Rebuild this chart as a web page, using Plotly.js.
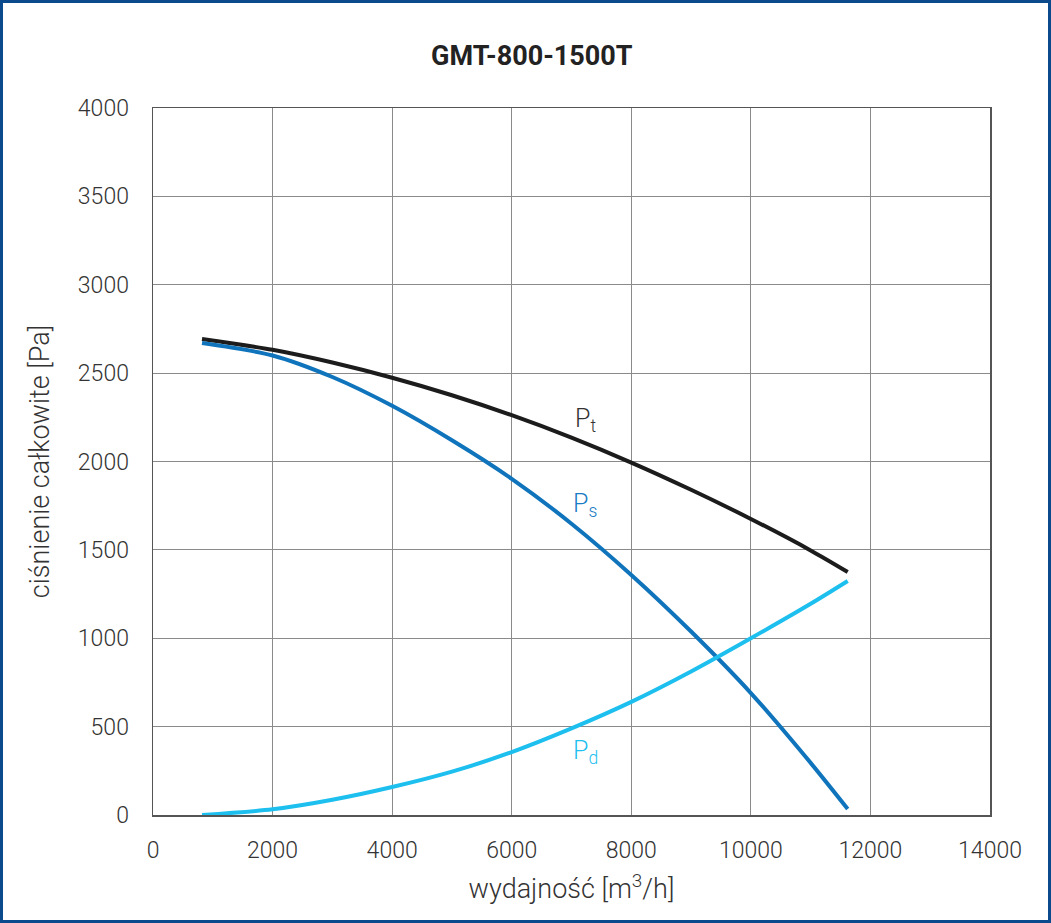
<!DOCTYPE html>
<html>
<head>
<meta charset="utf-8">
<script src="https://cdn.plot.ly/plotly-3.0.1.min.js"></script>
<style>
  html, body { margin: 0; padding: 0; background: #fff; }
  #frame { position: absolute; left: 0; top: 0; width: 1051px; height: 923px;
           box-sizing: border-box; border: 3px solid #0b4a8c; pointer-events: none; }
</style>
</head>
<body>
<div id="myDiv" style="width:1051px;height:923px;"></div>
<div id="frame"></div>
<script>
// wydajność [m3/h]
var flow = [820, 2000, 3000, 4000, 5000, 6000, 7000, 8000, 9000, 10000, 11000, 11620];
// ciśnienie całkowite Pt [Pa]
var pt = [2693, 2632, 2560, 2474, 2375, 2262, 2135, 1994, 1840, 1675, 1497, 1375];
// ciśnienie statyczne Ps [Pa]
var ps = [2670, 2600, 2478, 2315, 2120, 1902, 1648, 1358, 1038, 690, 295, 34];
// ciśnienie dynamiczne Pd [Pa]
var pd = [0, 32, 86, 158, 245, 356, 490, 640, 812, 1000, 1195, 1324];

var labelX = [7230, 7230, 7230];
var labelY = [2235, 1754, 356];
var labelText = ['P<sub>t</sub>', 'P<sub>s</sub>', 'P<sub>d</sub>'];
var labelColor = ['#333333', '#1a7cc4', '#1ec0ef'];

var xTicks = [0, 2000, 4000, 6000, 8000, 10000, 12000, 14000];
var yTicks = [0, 500, 1000, 1500, 2000, 2500, 3000, 3500, 4000];

var trace1 = { x: flow, y: pt, name: 'Pt', type: 'scatter', mode: 'lines',
    line: { color: '#1c1c1c', width: 4, shape: 'spline', smoothing: 0.8 } };
var trace2 = { x: flow, y: ps, name: 'Ps', type: 'scatter', mode: 'lines',
    line: { color: '#0f74bb', width: 4, shape: 'spline', smoothing: 0.8 } };
var trace3 = { x: flow, y: pd, name: 'Pd', type: 'scatter', mode: 'lines',
    line: { color: '#1dbfef', width: 4, shape: 'spline', smoothing: 0.8 } };

var data = [trace1, trace2, trace3];

var annotations = labelText.map(function(t, i) {
    return { x: labelX[i], y: labelY[i], text: t, showarrow: false,
             font: { family: 'Roboto', size: 25, weight: 300, color: labelColor[i] } };
});

var tickFont = { family: 'Roboto', size: 23, weight: 300, color: '#333' };
var titleFont = { family: 'Roboto', size: 27, weight: 300, color: '#333' };

var layout = {
    width: 1051, height: 923,
    margin: { l: 153, r: 61, t: 108, b: 108 },
    paper_bgcolor: '#fff', plot_bgcolor: '#fff',
    showlegend: false,
    title: { text: '<b>GMT-800-1500T</b>', x: 0.506, xanchor: 'center', y: 0.94, yanchor: 'middle',
             font: { family: 'Roboto', size: 27, color: '#222' } },
    xaxis: {
        range: [0, 14000], tickvals: xTicks, ticktext: xTicks.map(String),
        showgrid: true, gridcolor: '#8a8a8a', gridwidth: 1,
        showline: true, linecolor: '#555', linewidth: 1.5, mirror: true,
        zeroline: false, ticks: 'outside', ticklen: 14, tickcolor: 'rgba(0,0,0,0)',
        tickfont: tickFont,
        title: { text: 'wydajność [m<sup>3</sup>/h]', standoff: 16, font: titleFont }
    },
    yaxis: {
        range: [0, 4000], tickvals: yTicks, ticktext: yTicks.map(String),
        showgrid: true, gridcolor: '#8a8a8a', gridwidth: 1,
        showline: true, linecolor: '#555', linewidth: 1.5, mirror: true,
        zeroline: false, ticks: 'outside', ticklen: 18, tickcolor: 'rgba(0,0,0,0)',
        tickfont: tickFont,
        title: { text: 'ciśnienie całkowite [Pa]', standoff: 20, font: titleFont }
    },
    annotations: annotations
};

Plotly.newPlot('myDiv', data, layout, { displayModeBar: false, staticPlot: true });
</script>
</body>
</html>
